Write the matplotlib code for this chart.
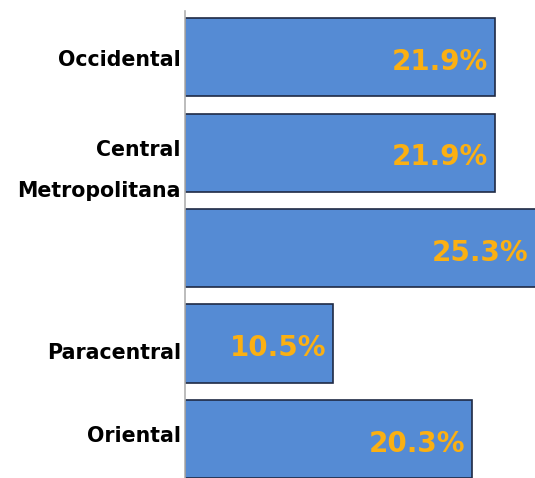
import matplotlib.pyplot as plt

# Datos
regiones = ['Occidental', 'Central', 'Metropolitana', 'Paracentral', 'Oriental']
porcentajes = [21.9, 21.9, 25.3, 10.5, 20.3]
etiquetas = ['21.9%', '21.9%', '25.3%', '10.5%', '20.3%']

# Posición vertical (en unidades de barra) de cada etiqueta de región
pos_etiquetas = [0.03, 0.97, 1.4, 3.1, 3.97]

fig = plt.figure(figsize=(5.35, 4.78), dpi=100)
ax = fig.add_axes([185 / 535, 0, 350 / 535, 1])

y = list(range(len(regiones)))
ax.barh(y, porcentajes, height=0.82, color='#558bd4', edgecolor='#1f2a44', linewidth=1.2)

ax.set_xlim(0, 24.75)
ax.set_ylim(4.41, -0.6)

for i, (v, txt) in enumerate(zip(porcentajes, etiquetas)):
    ax.text(min(v, 24.75) - 0.5, i + 0.05, txt, ha='right', va='center',
            fontsize=20, fontweight='bold', color='#fbb012')

for nombre, py in zip(regiones, pos_etiquetas):
    ax.text(-0.3, py, nombre, ha='right', va='center', fontsize=14.8,
            fontweight='bold', color='black', clip_on=False)

ax.set_xticks([])
ax.set_yticks([])
for lado in ['top', 'right', 'bottom']:
    ax.spines[lado].set_visible(False)
ax.spines['left'].set_color('#b0b0b0')
ax.spines['left'].set_linewidth(1.2)
ax.spines['left'].set_bounds(-0.48, 4.41)

fig.savefig('out.png', dpi=100)
